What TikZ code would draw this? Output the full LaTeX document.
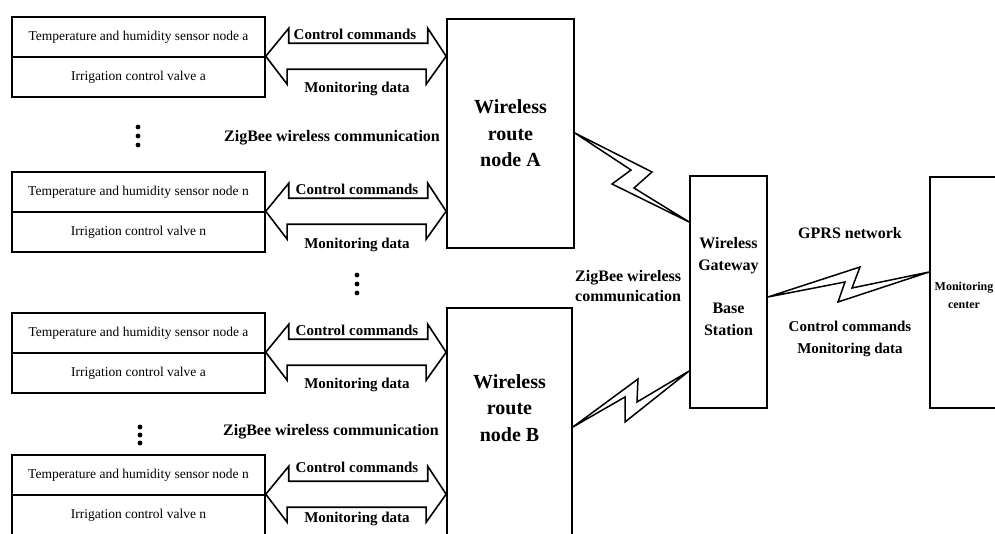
\documentclass[tikz,border=0pt]{standalone}
\usepackage{fontspec}
\setmainfont{Liberation Serif}
\begin{document}
\begin{tikzpicture}[x=1pt,y=-1pt,
  cell/.style={draw,line width=1.5pt,minimum width=253pt,minimum height=40pt,inner sep=0pt,
    font=\fontsize{13.5}{16}\selectfont},
  bigbox/.style={draw,line width=1.7pt,inner sep=0pt},
  rtext/.style={align=center,inner sep=0pt,font=\bfseries\fontsize{20}{26.5}\selectfont},
  gtext/.style={align=center,inner sep=0pt,font=\bfseries\fontsize{16}{21.8}\selectfont},
  lbl/.style={inner sep=0pt,font=\bfseries\fontsize{15}{18}\selectfont},
  zlbl/.style={inner sep=0pt,font=\bfseries\fontsize{16}{20}\selectfont},
  fat/.style={draw,line width=1.6pt,line join=miter},
  bolt/.style={draw,line width=1.5pt,line join=miter},
  dot/.style={circle,fill,inner sep=0pt,minimum size=4.8pt}
]
\useasboundingbox (0,0) rectangle (995,534);
\clip (0,0) rectangle (995,534);

% sensor groups
\node[cell] (s1a) at (138.5,37) {Temperature and humidity sensor node a};
\node[cell] (s1b) at (138.5,77) {Irrigation control valve a};
\node[cell] (s2a) at (138.5,192) {Temperature and humidity sensor node n};
\node[cell] (s2b) at (138.5,232) {Irrigation control valve n};
\node[cell] (s3a) at (138.5,333) {Temperature and humidity sensor node a};
\node[cell] (s3b) at (138.5,373) {Irrigation control valve a};
\node[cell] (s4a) at (138.5,475) {Temperature and humidity sensor node n};
\node[cell] (s4b) at (138.5,515) {Irrigation control valve n};

% routers, gateway, monitoring center
\node[bigbox,minimum width=127pt,minimum height=229pt] (rA) at (510.5,133.5) {};
\node[rtext] (rAt) at (510.5,133.5) {Wireless\\route\\node A};
\node[bigbox,minimum width=125pt,minimum height=250pt] (rB) at (509.5,433) {};
\node[rtext] (rBt) at (509.5,408) {Wireless\\route\\node B};
\node[bigbox,minimum width=77pt,minimum height=232pt] (gw) at (728.5,292) {};
\node[gtext] (gwt) at (728.5,286.5) {Wireless\\Gateway\\[21.8pt]Base\\Station};
\node[bigbox,minimum width=90pt,minimum height=231pt] (mc) at (975,292.5) {};
\node[align=center,inner sep=0pt,font=\bfseries\fontsize{12}{18}\selectfont] (mct) at (964,295) {Monitoring\\center};

% fat double arrows
\newcommand\dblarr[2]{%
  \draw[fat] (#1.north east) -- ++(23,-28) -- ++(0,15) -- ++(139,0) -- ++(0,-15)
    -- (#2.west |- #1.north east) -- ++(-20,28) -- ++(0,-15) -- ++(-139,0) -- ++(0,15) -- cycle;}
\dblarr{s1b}{rA}
\dblarr{s2b}{rA}
\dblarr{s3b}{rB}
\dblarr{s4b}{rB}

% arrow labels
\node[lbl] (c1) at (355,34) {Control commands};
\node[lbl] (m1) at (357,89) {Monitoring data};
\node[lbl] (c2) at (357,189) {Control commands};
\node[lbl] (m2) at (357,245) {Monitoring data};
\node[lbl] (c3) at (357,330) {Control commands};
\node[lbl] (m3) at (357,385) {Monitoring data};
\node[lbl] (c4) at (357,467) {Control commands};
\node[lbl] (m4) at (357,519) {Monitoring data};
\node[zlbl] (z1) at (332,138) {ZigBee wireless communication};
\node[zlbl] (z3) at (331,432) {ZigBee wireless communication};
\node[zlbl,align=left,anchor=west] (z2) at (575,286) {ZigBee wireless\\communication};
\node[zlbl] (gprs) at (850,233) {GPRS network};
\node[align=center,inner sep=0pt,font=\bfseries\fontsize{15}{22}\selectfont] (cm) at (850,339) {Control commands\\Monitoring data};

% dots
\foreach \y in {127,136,145} \node[dot] at (138,\y) {};
\foreach \y in {275,284,293} \node[dot] at (357,\y) {};
\foreach \y in {427,435,443} \node[dot] at (140,\y) {};

% lightning links
\coordinate (a1) at (rA.east |- 0,133);
\coordinate (a2) at (gw.west |- 0,222);
\draw[bolt] (a1) -- (652,172) -- (634,188) -- (a2) -- (612,184) -- (631,170) -- cycle;
\coordinate (b1) at (rB.east |- 0,427);
\coordinate (b2) at (gw.west |- 0,371);
\draw[bolt] (b1) -- (638,379) -- (637,402) -- (b2) -- (625,422) -- (625,397) -- cycle;
\coordinate (g1) at (gw.east |- 0,297);
\coordinate (g2) at (mc.west |- 0,272);
\draw[bolt] (g1) -- (860,267) -- (852,288) -- (g2) -- (838,302) -- (845,282) -- cycle;
\end{tikzpicture}
\end{document}
